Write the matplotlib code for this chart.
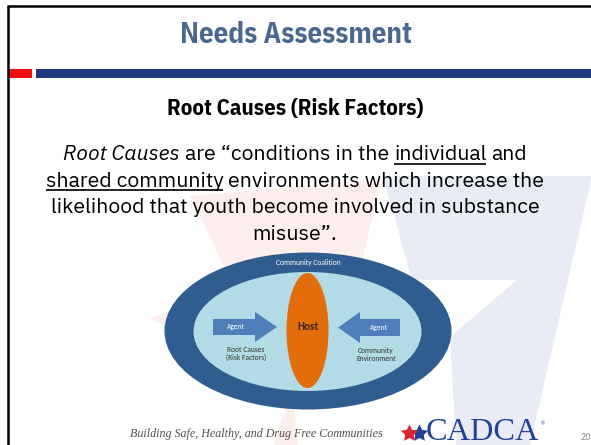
import matplotlib
matplotlib.use("Agg")
import matplotlib.pyplot as plt
from matplotlib.patches import Ellipse, Polygon, Rectangle

W, H = 591, 445

# ---------------- content ----------------
title = "Needs Assessment"
subtitle = "Root Causes (Risk Factors)"
body_lines = [
    [("Root Causes", "italic", False), ("are \u201cconditions in the", "normal", False),
     ("individual", "normal", True), ("and", "normal", False)],
    [("shared community", "normal", True), ("environments which increase the", "normal", False)],
    [("likelihood that youth become involved in substance", "normal", False)],
    [("misuse\u201d.", "normal", False)],
]
outer_label = "Community Coalition"
host_label = "Host"
agent_labels = ["Agent", "Agent"]
side_labels = ["Root Causes\n(Risk Factors)", "Community\nEnvironment"]
footer_text = "Building Safe, Healthy, and Drug Free Communities"
logo_text = "CADCA"
page_number = "20"

# ---------------- style ----------------
BODY = ["IBM Plex Sans", "Open Sans", "DejaVu Sans"]
HEAD = ["IBM Plex Sans Condensed", "Fira Sans Condensed", "DejaVu Sans"]
DIAG = ["Carlito", "Lato", "DejaVu Sans"]
SERIF = ["Liberation Serif", "DejaVu Serif"]
TITLE_C = "#49678f"
NAVY = "#1f3b7e"
RED = "#f20f0f"

fig = plt.figure(figsize=(W / 100, H / 100), dpi=100)
ax = fig.add_axes([0, 0, 1, 1])
ax.set_xlim(0, W)
ax.set_ylim(H, 0)
ax.axis("off")
renderer = fig.canvas.get_renderer()


def wid(t):
    return t.get_window_extent(renderer).width


def fit(t, target):
    t.set_fontsize(t.get_fontsize() * target / wid(t))


# ---------------- watermark star ----------------
grey_star = [(383, 176), (592, 176), (530, 445), (456, 445), (450, 337), (517, 280), (412, 280)]
pink_star = [(190, 196), (381, 179), (362, 262), (330, 300), (240, 300)]
pink_left = [(150, 318), (200, 300), (200, 345)]
pink_low = [(274, 445), (298, 445), (292, 385)]
ax.add_patch(Polygon(grey_star, closed=True, fc="#e9ecf4", ec="none", zorder=0))
for p in (pink_star, pink_left, pink_low):
    ax.add_patch(Polygon(p, closed=True, fc="#fdeeee", ec="none", zorder=0))

# ---------------- frame & header ----------------
ax.plot([7.5, 7.5], [445, 5.5], color="black", lw=1.8, solid_capstyle="butt", zorder=5)
ax.plot([7, 591], [5.5, 5.5], color="black", lw=1.8, solid_capstyle="butt", zorder=5)
ax.add_patch(Rectangle((9, 69), 22.5, 8.7, fc=RED, ec="none", zorder=3))
ax.add_patch(Rectangle((36, 69), 560, 8.7, fc=NAVY, ec="none", zorder=3))

t = ax.text(295.5, 43.3, title, family=HEAD, weight="bold", color=TITLE_C,
            fontsize=20, ha="center", va="baseline", zorder=4)
fit(t, 231)
t = ax.text(295.5, 115, subtitle, family=HEAD, weight="bold", color="black",
            fontsize=16, ha="center", va="baseline", zorder=4)
fit(t, 257)

# ---------------- body text ----------------
body_size = 14
probe = ax.text(0, 0, body_lines[2][0][0], family=BODY, fontsize=body_size)
body_size = body_size * 489 / wid(probe)
probe.remove()
p1 = ax.text(0, 0, "x x", family=BODY, fontsize=body_size)
p2 = ax.text(0, 0, "xx", family=BODY, fontsize=body_size)
space_w = wid(p1) - wid(p2)
p1.remove(); p2.remove()

baselines = [160, 186.7, 213.3, 240]
for segs, yb in zip(body_lines, baselines):
    items = []
    for s, style, ul in segs:
        tt = ax.text(0, yb, s, family=BODY, style=style, fontsize=body_size,
                     ha="left", va="baseline", color="black", zorder=4)
        items.append((tt, ul, wid(tt)))
    total = sum(w for _, _, w in items) + space_w * (len(items) - 1)
    x = 295 - total / 2
    for tt, ul, w in items:
        tt.set_x(x)
        if ul:
            ax.plot([x, x + w], [yb + 3.6, yb + 3.6], color="black", lw=1.2,
                    solid_capstyle="butt", zorder=4)
        x += w + space_w

# ---------------- diagram ----------------
cx, cy = 308, 331
ax.add_patch(Ellipse((cx, cy), 287, 157, fc="#2f5d8f", ec="none", zorder=2))
ax.add_patch(Ellipse((307.5, 331.5), 228, 119, fc="#b3dbe5", ec="none", zorder=2))
ax.add_patch(Ellipse((307.5, 330.5), 42, 115, fc="#e36c0b", ec="none", zorder=3))

arrow_left = [(213, 319), (255, 319), (255, 312), (277, 327), (255, 342), (255, 335), (213, 335)]
arrow_right = [(400, 319), (360, 319), (360, 312), (338, 327.5), (360, 343), (360, 336), (400, 336)]
for a in (arrow_left, arrow_right):
    ax.add_patch(Polygon(a, closed=True, fc="#4f7fba", ec="none", zorder=3))

ax.text(cx, 262.5, outer_label, family=DIAG, fontsize=5.4, color="white",
        ha="center", va="center", zorder=4)
ax.text(307.5, 327, host_label, family=DIAG, fontsize=8, color="#3b2a1f",
        weight="bold", ha="center", va="center", zorder=4)
ax.text(236, 326.5, agent_labels[0], family=DIAG, fontsize=5.4, color="white",
        ha="center", va="center", zorder=4)
ax.text(379, 327.5, agent_labels[1], family=DIAG, fontsize=5.4, color="white",
        ha="center", va="center", zorder=4)
ax.text(246, 353.5, side_labels[0], family=DIAG, fontsize=5.4, color="#333333",
        ha="center", va="center", linespacing=1.25, zorder=4)
ax.text(376, 354.5, side_labels[1], family=DIAG, fontsize=5.4, color="#333333",
        ha="center", va="center", linespacing=1.25, zorder=4)

# ---------------- footer ----------------
t = ax.text(130, 436.5, footer_text, family=SERIF, style="italic", color="#505050",
            fontsize=10, ha="left", va="baseline", zorder=4)
fit(t, 253)
ax.plot([419], [432.5], marker=(5, 1, 0), ms=13, color="#22409a", mec="none", zorder=4)
ax.plot([409], [432.5], marker=(5, 1, 0), ms=13, color="#d8262e", mec="none", zorder=5)
t = ax.text(426, 439.5, logo_text, family=SERIF, color="#22409a", fontsize=20,
            ha="left", va="baseline", zorder=4)
fit(t, 113)
ax.text(541, 424, "\u00ae", family=SERIF, color="#22409a", fontsize=4,
        ha="left", va="center", zorder=4)
ax.text(586, 437.5, page_number, family=HEAD, color="#8a8a8a", fontsize=7,
        ha="center", va="center", zorder=4)

fig.savefig("out.png", dpi=100)
